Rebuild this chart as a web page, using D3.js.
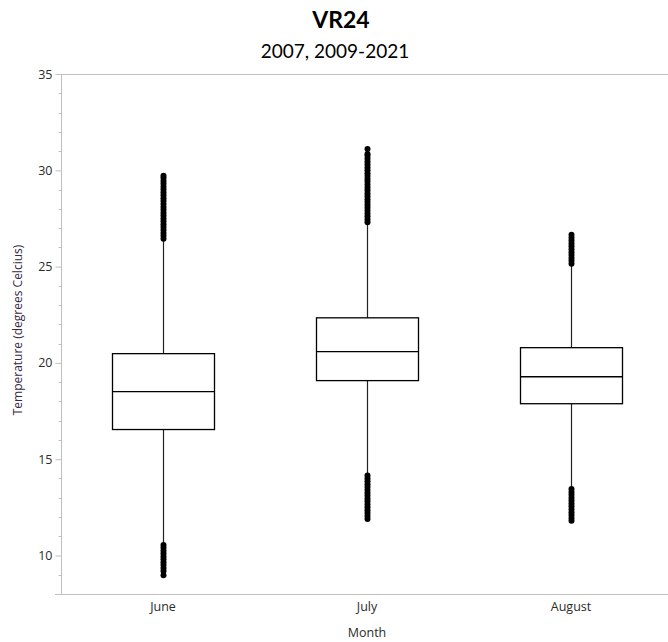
<!DOCTYPE html>
<html><head><meta charset="utf-8">
<script src="https://cdn.jsdelivr.net/npm/d3@7"></script>
<style>body{margin:0;background:#fff}svg{display:block}</style>
</head><body>
<script>
const months = ["June", "July", "August"];
const q1 = [16.54, 19.08, 17.88];
const median = [18.51, 20.58, 19.28];
const q3 = [20.48, 22.34, 20.79];
const whiskerLow = [10.6, 14.2, 13.5];
const whiskerHigh = [26.4, 27.2, 25.1];
const outliersJune = [26.45,26.6,26.75,26.9,27.05,27.2,27.35,27.5,27.65,27.8,27.95,28.1,28.25,28.4,28.55,28.7,28.85,29.0,29.15,29.3,29.45,29.6,29.72,
  10.55,10.4,10.25,10.1,9.95,9.8,9.65,9.5,9.35,9.2,8.98];
const outliersJuly = [27.3,27.45,27.6,27.75,27.9,28.05,28.2,28.35,28.5,28.65,28.8,28.95,29.1,29.25,29.4,29.55,29.7,29.85,30.0,30.15,30.3,30.45,30.6,30.75,30.85,31.1,
  14.15,14.0,13.85,13.7,13.55,13.4,13.25,13.1,12.95,12.8,12.65,12.5,12.35,12.2,12.05,11.9];
const outliersAugust = [25.15,25.3,25.45,25.6,25.75,25.9,26.05,26.2,26.35,26.5,26.65,
  13.45,13.3,13.15,13.0,12.85,12.7,12.55,12.4,12.25,12.1,11.95,11.8];
const outliers = [outliersJune, outliersJuly, outliersAugust];
const yTicks = [10, 15, 20, 25, 30, 35];
const title = "VR24";
const subtitle = "2007, 2009-2021";

const W = 668, H = 642;
const svg = d3.select("body").append("svg").attr("width", W).attr("height", H);
const mLeft = 61, mTop = 74, mBottom = 594, rightEdge = 668;

const y = d3.scaleLinear().domain([8, 35]).range([mBottom, mTop]);
const x = d3.scaleBand().domain(months).range([mLeft, 673]).padding(0);
const bw = 102;

svg.append("text").attr("x", 341).attr("y", 28).attr("text-anchor", "middle")
  .style("font-family", "Lato, 'Open Sans', sans-serif").style("font-weight", "bold").style("font-size", "23px").text(title);
svg.append("text").attr("x", 335).attr("y", 58).attr("text-anchor", "middle")
  .style("font-family", "Lato, 'Open Sans', sans-serif").style("font-size", "19px").text(subtitle);

// frame top
svg.append("line").attr("x1", mLeft).attr("x2", rightEdge).attr("y1", mTop + 0.5).attr("y2", mTop + 0.5).attr("stroke", "#c0c0c0");

// y axis
const yAxis = d3.axisLeft(y).tickValues(yTicks).tickSize(6).tickSizeOuter(0).tickFormat(d3.format("d"));
const gy = svg.append("g").attr("transform", `translate(${mLeft + 0.5},0)`).call(yAxis);
const minor = d3.range(9, 36).filter(v => v % 5 !== 0);
gy.selectAll(".minor").data(minor).enter().append("line").attr("class", "minor")
  .attr("x1", -3).attr("x2", 0).attr("y1", d => Math.round(y(d)) + 0.5).attr("y2", d => Math.round(y(d)) + 0.5).attr("stroke", "#c0c0c0");
gy.select(".domain").attr("stroke", "#c0c0c0").attr("d", `M0,${mTop}V${mBottom}`);
gy.selectAll(".tick line").attr("stroke", "#c0c0c0");
gy.selectAll(".tick text").attr("x", -9).style("font-family", "'Open Sans', 'Noto Sans', sans-serif").style("font-size", "12.5px").attr("fill", "#2b2b2b");

// x axis
const xAxis = d3.axisBottom(x).tickSize(0).tickSizeOuter(0);
const gx = svg.append("g").attr("transform", `translate(0,${mBottom + 0.5})`).call(xAxis);
gx.select(".domain").attr("stroke", "#c0c0c0").attr("d", `M${mLeft - 6},0H${rightEdge}`);
gx.selectAll(".tick text").attr("y", 8).style("font-family", "'Open Sans', 'Noto Sans', sans-serif").style("font-size", "12.5px").attr("fill", "#2b2b2b");

svg.append("text").attr("x", 367).attr("y", 637).attr("text-anchor", "middle")
  .style("font-family", "'Open Sans', 'Noto Sans', sans-serif").style("font-size", "12.5px").attr("fill", "#2b2b2b").text("Month");
svg.append("text").attr("transform", "translate(22,330) rotate(-90)").attr("text-anchor", "middle")
  .style("font-family", "'Open Sans', 'Noto Sans', sans-serif").style("font-size", "12px").attr("fill", "#35283f").text("Temperature (degrees Celcius)");

// boxes
months.forEach((m, i) => {
  const cx = Math.round(x(m) + x.bandwidth() / 2) + 0.5;
  const g = svg.append("g");
  g.append("line").attr("x1", cx).attr("x2", cx).attr("y1", y(whiskerHigh[i])).attr("y2", y(q3[i])).attr("stroke", "#222").attr("stroke-width", 1.2);
  g.append("line").attr("x1", cx).attr("x2", cx).attr("y1", y(q1[i])).attr("y2", y(whiskerLow[i])).attr("stroke", "#222").attr("stroke-width", 1.2);
  g.append("rect").attr("x", cx - bw / 2).attr("y", y(q3[i])).attr("width", bw).attr("height", y(q1[i]) - y(q3[i]))
    .attr("fill", "none").attr("stroke", "#000").attr("stroke-width", 1.3);
  g.append("line").attr("x1", cx - bw / 2).attr("x2", cx + bw / 2).attr("y1", y(median[i])).attr("y2", y(median[i])).attr("stroke", "#000").attr("stroke-width", 1.3);
  g.selectAll("circle").data(outliers[i]).enter().append("circle")
    .attr("cx", cx).attr("cy", d => y(d)).attr("r", 3).attr("fill", "#000");
});
</script>
</body></html>
